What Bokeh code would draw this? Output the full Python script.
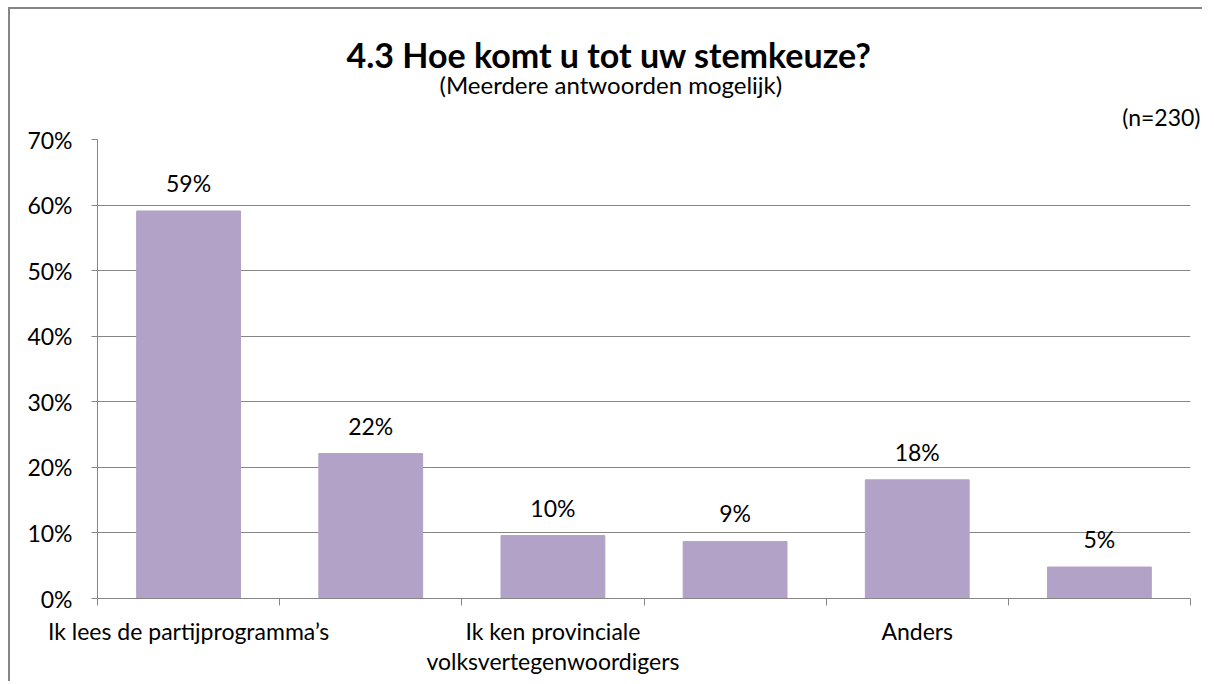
from bokeh.plotting import figure
from bokeh.models import FixedTicker, Title, ColumnDataSource
from bokeh.core.properties import value
from bokeh.embed import file_html
from bokeh.resources import INLINE

title = "4.3 Hoe komt u tot uw stemkeuze?"
subtitle = "(Meerdere antwoorden mogelijk)"
n_note = "(n=230)"
categories = ["Ik lees de partijprogramma’s", "", "Ik ken provinciale\nvolksvertegenwoordigers", "", "Anders", ""]
values = [59.1, 22.1, 9.6, 8.7, 18.1, 4.8]
y_ticks = [0, 10, 20, 30, 40, 50, 60, 70]

FONT = "Lato"
BAR = "#B2A2C7"
GRAY = "#868686"

xs = [i + 0.5 for i in range(len(categories))]
labels = [f"{round(v):.0f}%" for v in values]
src = ColumnDataSource(dict(x=xs, top=values, lab=labels))

W, H = 1194, 674
p = figure(width=W, height=H, x_range=(0, len(categories)), y_range=(0, 70),
           output_backend="svg", toolbar_location=None,
           min_border_left=87, min_border_right=14, min_border_top=130, min_border_bottom=85)
p.styles = {"margin-left": "8px", "margin-top": "7px",
            "border-left": f"2px solid {GRAY}", "border-top": f"2px solid {GRAY}"}
p.outline_line_color = None
p.background_fill_color = "white"
p.border_fill_color = "white"
p.title.visible = False

p.vbar(x="x", top="top", width=0.57, source=src, fill_color=BAR, line_color=BAR)
p.text(x="x", y="top", text="lab", source=src, text_align="center", text_baseline="bottom",
       y_offset=-14, text_font=value(FONT), text_font_size="23px", text_color="black")

p.xgrid.visible = False
p.ygrid.grid_line_color = GRAY
p.ygrid.grid_line_width = 1
p.yaxis.ticker = FixedTicker(ticks=y_ticks)
p.yaxis.major_label_overrides = {t: f"{t}%" for t in y_ticks}
p.yaxis.minor_tick_line_color = None
p.yaxis.major_tick_in = 0
p.yaxis.major_tick_out = 6
p.yaxis.axis_line_color = GRAY
p.yaxis.major_tick_line_color = GRAY
p.yaxis.major_label_text_font = FONT
p.yaxis.major_label_text_font_size = "23px"
p.yaxis.major_label_text_color = "black"
p.yaxis.major_label_standoff = 19

p.xaxis.ticker = FixedTicker(ticks=xs, minor_ticks=list(range(len(categories) + 1)))
p.xaxis.major_label_overrides = {x: c for x, c in zip(xs, categories)}
p.xaxis.major_tick_in = 0
p.xaxis.major_tick_out = 0
p.xaxis.minor_tick_in = 0
p.xaxis.minor_tick_out = 7
p.xaxis.minor_tick_line_color = GRAY
p.xaxis.axis_line_color = GRAY
p.xaxis.major_label_text_font = FONT
p.xaxis.major_label_text_font_size = "23px"
p.xaxis.major_label_text_line_height = 1.1
p.xaxis.major_label_text_color = "black"
p.xaxis.major_label_standoff = 11

# titles stacked above the frame (first added = closest to frame)
p.add_layout(Title(text=n_note, align="right", offset=-10, standoff=18,
                   text_font=FONT, text_font_size="23px", text_font_style="normal",
                   text_line_height=0.85, text_color="black"), "above")
p.add_layout(Title(text=subtitle, align="left", offset=342, standoff=-15,
                   text_font=FONT, text_font_size="24px", text_font_style="normal",
                   text_color="black"), "above")
p.add_layout(Title(text=title, align="left", offset=249, standoff=2,
                   text_font=FONT, text_font_size="34px", text_font_style="bold",
                   text_color="black"), "above")

open("out.html", "w").write(file_html(p, INLINE))
